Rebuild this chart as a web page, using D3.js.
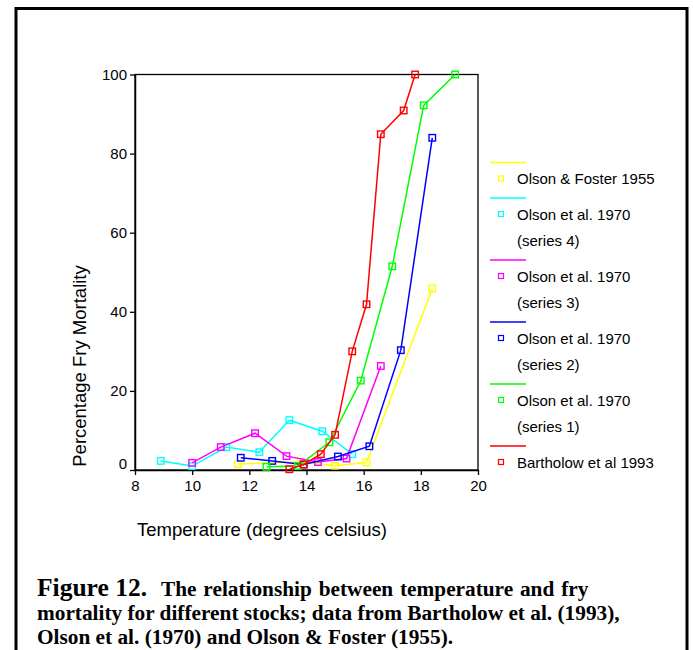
<!DOCTYPE html>
<html>
<head>
<meta charset="utf-8">
<script src="https://cdn.jsdelivr.net/npm/d3@7"></script>
<style>
  html, body { margin: 0; padding: 0; background: #fff; }
  svg { display: block; }
</style>
</head>
<body>
<svg id="chart" width="693" height="650"></svg>
<script>
// ---- Data ----
const xTicks = [8, 10, 12, 14, 16, 18, 20];
const yTicks = [0, 20, 40, 60, 80, 100];

const olsonFoster1955Temp = [11.6, 13.8, 15.0, 16.1, 18.4];
const olsonFoster1955Mort = [1.5, 2.1, 1.1, 1.9, 45.9];

const olson1970s4Temp = [8.9, 10.0, 11.2, 12.35, 13.4, 14.55, 15.6];
const olson1970s4Mort = [2.3, 1.0, 5.8, 4.5, 12.6, 9.8, 4.0];

const olson1970s3Temp = [10.0, 11.0, 12.2, 13.3, 14.4, 15.4, 16.6];
const olson1970s3Mort = [1.8, 5.8, 9.3, 3.5, 2.0, 2.9, 26.3];

const olson1970s2Temp = [11.7, 12.8, 13.9, 15.1, 16.2, 17.3, 18.4];
const olson1970s2Mort = [3.1, 2.3, 1.4, 3.4, 6.0, 30.3, 84.0];

const olson1970s1Temp = [12.6, 13.7, 14.8, 15.9, 17.0, 18.1, 19.2];
const olson1970s1Mort = [0.8, 1.0, 7.0, 22.6, 51.5, 92.2, 100];

const bartholow1993Temp = [13.4, 13.9, 14.5, 15.0, 15.6, 16.1, 16.6, 17.4, 17.8];
const bartholow1993Mort = [0.2, 1.4, 4.0, 8.9, 30.0, 41.9, 84.9, 90.9, 100];

const seriesLabels = [
  ["Olson & Foster 1955"],
  ["Olson et al. 1970", "(series 4)"],
  ["Olson et al. 1970", "(series 3)"],
  ["Olson et al. 1970", "(series 2)"],
  ["Olson et al. 1970", "(series 1)"],
  ["Bartholow et al 1993"]
];
const seriesColors = ["#ffff00", "#00ffff", "#ff00ff", "#0000ff", "#00ff00", "#ff0000"];
const seriesTemps = [olsonFoster1955Temp, olson1970s4Temp, olson1970s3Temp, olson1970s2Temp, olson1970s1Temp, bartholow1993Temp];
const seriesMorts = [olsonFoster1955Mort, olson1970s4Mort, olson1970s3Mort, olson1970s2Mort, olson1970s1Mort, bartholow1993Mort];

const series = seriesLabels.map((label, i) => ({
  label, color: seriesColors[i],
  points: seriesTemps[i].map((t, j) => ({ t, m: seriesMorts[i][j] }))
}));

// ---- Layout ----
const svg = d3.select("#chart");
const font = "'Liberation Sans', Arial, sans-serif";
const plot = { left: 135, right: 478, top: 74.5, bottom: 470 };

// outer frame
svg.append("rect")
  .attr("x", 16).attr("y", 8.5).attr("width", 671).attr("height", 700)
  .attr("fill", "none").attr("stroke", "#000").attr("stroke-width", 3);

const x = d3.scaleLinear().domain([8, 20]).range([plot.left, plot.right]);
const y = d3.scaleLinear().domain([0, 100]).range([plot.bottom, plot.top]);

// plot box
svg.append("rect")
  .attr("x", plot.left).attr("y", plot.top)
  .attr("width", plot.right - plot.left).attr("height", plot.bottom - plot.top)
  .attr("fill", "none").attr("stroke", "#000").attr("stroke-width", 1.3);

// axes
const xAxis = svg.append("g")
  .attr("transform", `translate(0,${plot.bottom})`)
  .call(d3.axisBottom(x).tickValues(xTicks).tickSize(5).tickPadding(5).tickSizeOuter(0));
const yAxis = svg.append("g")
  .attr("transform", `translate(${plot.left},0)`)
  .call(d3.axisLeft(y).tickValues(yTicks).tickSize(5).tickPadding(3).tickSizeOuter(0));

[xAxis, yAxis].forEach(a => {
  a.select(".domain").attr("stroke", "#000").attr("stroke-width", 1.5);
  a.selectAll(".tick line").attr("stroke", "#000").attr("stroke-width", 1.3);
  a.selectAll(".tick text").attr("fill", "#000")
    .style("font-family", font).style("font-size", "15px");
});
yAxis.selectAll(".tick text").filter(d => d === 0).attr("dy", "-0.1em");

// axis titles
svg.append("text")
  .attr("x", 137).attr("y", 536)
  .style("font-family", font).style("font-size", "18.5px")
  .text("Temperature (degrees celsius)");
svg.append("text")
  .attr("transform", "translate(86,366) rotate(-90)")
  .attr("text-anchor", "middle")
  .style("font-family", font).style("font-size", "18.5px")
  .text("Percentage Fry Mortality");

// series
const line = d3.line().x(d => x(d.t)).y(d => y(d.m));
const ms = 6.5;
series.forEach(s => {
  const g = svg.append("g");
  g.append("path").datum(s.points)
    .attr("d", line).attr("fill", "none")
    .attr("stroke", s.color).attr("stroke-width", 1.5);
  g.selectAll("rect").data(s.points).enter().append("rect")
    .attr("x", d => x(d.t) - ms / 2).attr("y", d => y(d.m) - ms / 2)
    .attr("width", ms).attr("height", ms)
    .attr("fill", "none").attr("stroke", s.color).attr("stroke-width", 1.4);
});

// legend
let ly = 162.5;
series.forEach(s => {
  const g = svg.append("g");
  g.append("line").attr("x1", 490).attr("x2", 526).attr("y1", ly).attr("y2", ly)
    .attr("stroke", s.color).attr("stroke-width", 1.5);
  const r0 = ly + 16;
  g.append("rect").attr("x", 501 - 2.5).attr("y", r0 - 2.5).attr("width", 5).attr("height", 5)
    .attr("fill", "none").attr("stroke", s.color).attr("stroke-width", 1.2);
  s.label.forEach((t, k) => {
    g.append("text").attr("x", 517).attr("y", r0 + k * 26.5)
      .attr("dominant-baseline", "central")
      .style("font-family", font).style("font-size", "15px")
      .text(t);
  });
  ly = r0 + (s.label.length - 1) * 26.5 + 19.5;
});

// caption
const serif = "'Liberation Serif', 'Times New Roman', serif";
const cap = svg.append("text").attr("x", 37).attr("y", 596)
  .style("font-family", serif).style("font-weight", "bold").style("font-size", "21.3px");
cap.append("tspan").style("font-size", "25.5px").text("Figure 12.");
cap.append("tspan").attr("dx", 14).attr("word-spacing", "1.5px")
  .text("The relationship between temperature and fry");
svg.append("text").attr("x", 37).attr("y", 620)
  .style("font-family", serif).style("font-weight", "bold").style("font-size", "21.3px")
  .text("mortality for different stocks; data from Bartholow et al. (1993),");
svg.append("text").attr("x", 37).attr("y", 644)
  .style("font-family", serif).style("font-weight", "bold").style("font-size", "21.3px")
  .text("Olson et al. (1970) and Olson & Foster (1955).");
</script>
</body>
</html>
